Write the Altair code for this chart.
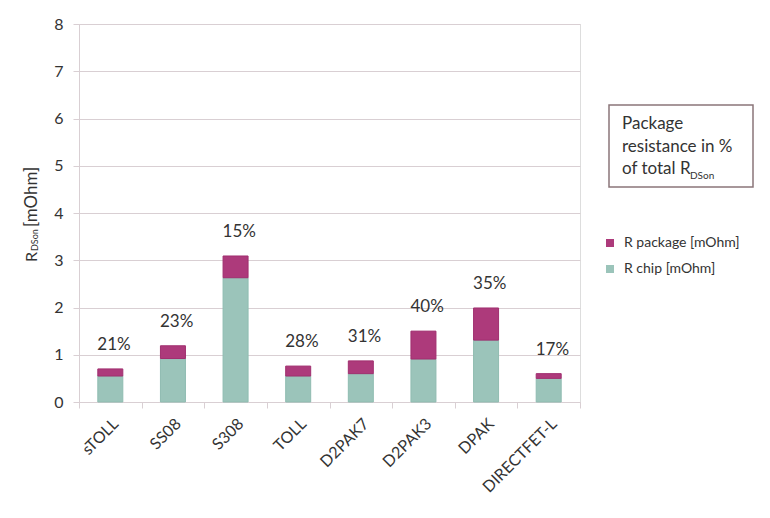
import altair as alt
import pandas as pd

categories = ["sTOLL", "SS08", "S308", "TOLL", "D2PAK7", "D2PAK3", "DPAK", "DIRECTFET-L"]
chip = [0.55, 0.92, 2.63, 0.55, 0.60, 0.91, 1.31, 0.50]
package = [0.15, 0.27, 0.46, 0.21, 0.27, 0.59, 0.68, 0.10]
pct_labels = ["21%", "23%", "15%", "28%", "31%", "40%", "35%", "17%"]
series_names = ["R package [mOhm]", "R chip [mOhm]"]
series_colors = ["#ad3a7b", "#9bc4ba"]
series_strokes = ["#a02f6f", "#8fbcb1"]
y_ticks = [0, 1, 2, 3, 4, 5, 6, 7, 8]
box_lines = ["Package", "resistance in %", "of total R"]

FONT = "Lato"
TXT = "#333333"
GRID = "#d9cfd3"

rows = []
for c, ch, pk in zip(categories, chip, package):
    rows.append({"category": c, "series": series_names[1], "value": ch, "ord": 0})
    rows.append({"category": c, "series": series_names[0], "value": pk, "ord": 1})
df = pd.DataFrame(rows)

df_tot = pd.DataFrame({
    "category": categories,
    "total": [a + b for a, b in zip(chip, package)],
    "label": pct_labels,
})

xenc = alt.X(
    "category:N", sort=categories, title=None,
    scale=alt.Scale(paddingInner=0, paddingOuter=0),
    axis=alt.Axis(labelAngle=-45, labelAlign="right", labelBaseline="middle",
                  labelFontSize=16, labelColor=TXT, labelPadding=13,
                  labelOffset=5,
                  tickBand="extent", tickSize=6, tickColor=GRID,
                  domainColor=GRID, labelFont=FONT),
)

bars = alt.Chart(df).mark_bar(size=25, strokeWidth=1).encode(
    x=xenc,
    y=alt.Y("value:Q", stack="zero", title=None,
            scale=alt.Scale(domain=[0, 8], nice=False),
            axis=alt.Axis(values=y_ticks, labelFontSize=16, labelColor=TXT,
                          labelPadding=10, tickSize=6, tickColor=GRID,
                          domainColor=GRID, gridColor=GRID, grid=True,
                          labelFont=FONT)),
    color=alt.Color("series:N",
                    scale=alt.Scale(domain=series_names, range=series_colors),
                    legend=alt.Legend(orient="none", legendX=524, legendY=212,
                                      title=None, symbolType="square",
                                      symbolSize=64, symbolStrokeWidth=0,
                                      labelFontSize=14, labelColor=TXT,
                                      labelFont=FONT, labelOffset=7,
                                      rowPadding=12, padding=0)),
    stroke=alt.Stroke("series:N",
                      scale=alt.Scale(domain=series_names, range=series_strokes),
                      legend=None),
    order=alt.Order("ord:Q"),
)

labels = alt.Chart(df_tot).mark_text(
    align="left", baseline="alphabetic", dx=-13, dy=-19,
    fontSize=17, font=FONT, color=TXT,
).encode(x=alt.X("category:N", sort=categories), y="total:Q", text="label:N")

# y-axis title with subscript
ytitle_df = pd.DataFrame({"t": ["R", "DSon", "[mOhm]"],
                          "px": [-47, -44, -47],
                          "py": [238, 227, 203],
                          "fs": [16, 9, 17]})
ytitle = alt.Chart(ytitle_df).mark_text(
    angle=270, align="left", baseline="middle", font=FONT, color=TXT
).encode(
    x=alt.X("px:Q", scale=None), y=alt.Y("py:Q", scale=None),
    text="t:N", size=alt.Size("fs:Q", scale=None),
)

# annotation box
box_df = pd.DataFrame({"x": [530], "x2": [674], "y": [81], "y2": [163]})
box = alt.Chart(box_df).mark_rect(fill="white", stroke="#8b7579",
                                  strokeWidth=1.5).encode(
    x=alt.X("x:Q", scale=None), x2="x2:Q",
    y=alt.Y("y:Q", scale=None), y2="y2:Q",
)

box_txt_df = pd.DataFrame({"t": box_lines + ["DSon"],
                           "px": [543, 543, 543, 611],
                           "py": [100, 123, 145, 152],
                           "fs": [17, 17, 17, 10]})
box_txt = alt.Chart(box_txt_df).mark_text(
    align="left", baseline="middle", font=FONT, color=TXT
).encode(
    x=alt.X("px:Q", scale=None), y=alt.Y("py:Q", scale=None),
    text="t:N", size=alt.Size("fs:Q", scale=None),
)

chart = alt.layer(bars, labels, ytitle, box, box_txt).properties(
    width=501, height=378,
    autosize=alt.AutoSizeParams(type="none"),
    padding={"left": 71, "top": 16, "right": 178, "bottom": 105},
).configure_view(stroke=None).configure(font=FONT)

chart.save("out.html", embed_options={"renderer": "svg", "actions": False})
